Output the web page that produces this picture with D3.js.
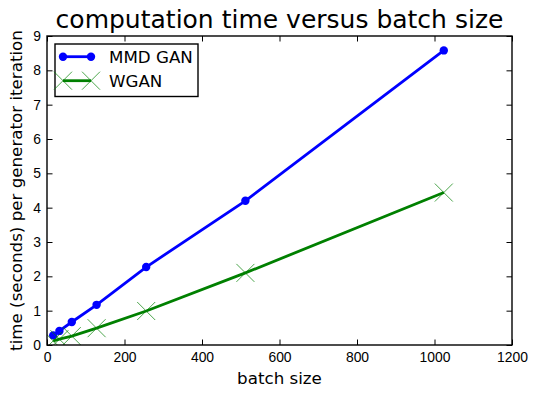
<!DOCTYPE html>
<html lang="en">
<head>
  <meta charset="utf-8">
  <title>computation time versus batch size</title>
  <style>
    body { margin:0; background:#fff; }
    svg { display:block; font-family:"DejaVu Sans", sans-serif; }
    .tick text { font-size:13.9px; fill:#000; }
  </style>
</head>
<body>
  <div id="chart"></div>
  <script src="https://d3js.org/d3.v7.min.js"></script>
  <script>
    var batchSizes = [16, 32, 64, 128, 256, 512, 1024];
    var mmdTimes = [0.28, 0.41, 0.67, 1.17, 2.27, 4.2, 8.58];
    var wganTimes = [0.12, 0.17, 0.26, 0.49, 0.99, 2.1, 4.44];
    var xTicks = [0, 200, 400, 600, 800, 1000, 1200];
    var yTicks = [0, 1, 2, 3, 4, 5, 6, 7, 8, 9];

    var W = 539, H = 397;
    var m = {left:47, top:36, right:27, bottom:52};
    var w = W - m.left - m.right, h = H - m.top - m.bottom;

    var svg = d3.select("#chart").append("svg")
        .attr("width", W).attr("height", H);

    var x = d3.scaleLinear().domain([0, 1200]).range([0, w]);
    var y = d3.scaleLinear().domain([0, 9]).range([h, 0]);

    var g = svg.append("g").attr("transform", "translate(" + m.left + "," + m.top + ")");

    svg.append("defs").append("clipPath").attr("id", "clip")
      .append("rect").attr("width", w).attr("height", h);

    // ticks inside on all four sides (classic style)
    var tl = 5.5;
    g.append("g").attr("transform", "translate(0," + h + ")")
      .call(d3.axisBottom(x).tickValues(xTicks).tickSizeInner(-tl).tickSizeOuter(0)
        .tickPadding(7).tickFormat(d3.format("d")));
    g.append("g")
      .call(d3.axisTop(x).tickValues(xTicks).tickSizeInner(-tl).tickSizeOuter(0).tickFormat(""));
    g.append("g")
      .call(d3.axisLeft(y).tickValues(yTicks).tickSizeInner(-tl).tickSizeOuter(0).tickPadding(6));
    g.append("g").attr("transform", "translate(" + w + ",0)")
      .call(d3.axisRight(y).tickValues(yTicks).tickSizeInner(-tl).tickSizeOuter(0).tickFormat(""));
    g.selectAll(".domain").remove();
    g.selectAll(".tick line").attr("stroke", "#000").attr("stroke-width", 1);

    var plot = g.append("g").attr("clip-path", "url(#clip)");

    var line = d3.line()
      .x(function(d){ return x(d[0]); })
      .y(function(d){ return y(d[1]); });

    var mmd = batchSizes.map(function(b, i){ return [b, mmdTimes[i]]; });
    var wgan = batchSizes.map(function(b, i){ return [b, wganTimes[i]]; });

    plot.append("path").datum(mmd).attr("d", line)
      .attr("fill", "none").attr("stroke", "#0000ff").attr("stroke-width", 2.8);
    plot.selectAll(".dot").data(mmd).enter().append("circle")
      .attr("cx", function(d){ return x(d[0]); })
      .attr("cy", function(d){ return y(d[1]); })
      .attr("r", 4.2).attr("fill", "#0000ff");

    plot.append("path").datum(wgan).attr("d", line)
      .attr("fill", "none").attr("stroke", "#008000").attr("stroke-width", 2.8);

    var s = 9;
    function cross(sel, cx, cy){
      sel.append("path")
        .attr("d", "M" + (cx - s) + "," + (cy - s) + "L" + (cx + s) + "," + (cy + s) +
                   "M" + (cx - s) + "," + (cy + s) + "L" + (cx + s) + "," + (cy - s))
        .attr("stroke", "#008000").attr("stroke-width", 0.7).attr("fill", "none");
    }
    wgan.forEach(function(d){ cross(plot, x(d[0]), y(d[1])); });

    // frame
    g.append("rect").attr("width", w).attr("height", h)
      .attr("fill", "none").attr("stroke", "#000").attr("stroke-width", 1.4);

    // legend
    var lg = svg.append("g");
    lg.append("rect").attr("x", 55).attr("y", 44).attr("width", 143).attr("height", 52.5)
      .attr("fill", "#fff").attr("stroke", "#000").attr("stroke-width", 1.4);
    var items = [
      {name:"MMD GAN", color:"#0000ff", y:56.7, mark:"o"},
      {name:"WGAN", color:"#008000", y:80.7, mark:"x"}
    ];
    items.forEach(function(it){
      lg.append("line").attr("x1", 63).attr("x2", 91).attr("y1", it.y).attr("y2", it.y)
        .attr("stroke", it.color).attr("stroke-width", 2.8);
      [63, 91].forEach(function(px){
        if (it.mark === "o") {
          lg.append("circle").attr("cx", px).attr("cy", it.y).attr("r", 4.2).attr("fill", it.color);
        } else {
          cross(lg, px, it.y);
        }
      });
      lg.append("text").attr("x", 109).attr("y", it.y + 6)
        .attr("font-size", "16.7px").text(it.name);
    });

    // title and axis labels
    svg.append("text").attr("x", m.left + w / 2).attr("y", 28)
      .attr("text-anchor", "middle").attr("font-size", "25px").text("computation time versus batch size");
    svg.append("text").attr("x", m.left + w / 2).attr("y", 384)
      .attr("text-anchor", "middle").attr("font-size", "16.7px").text("batch size");
    svg.append("text")
      .attr("transform", "translate(22," + (m.top + h / 2) + ") rotate(-90)")
      .attr("text-anchor", "middle").attr("font-size", "16.7px")
      .text("time (seconds) per generator iteration");
  </script>
</body>
</html>
